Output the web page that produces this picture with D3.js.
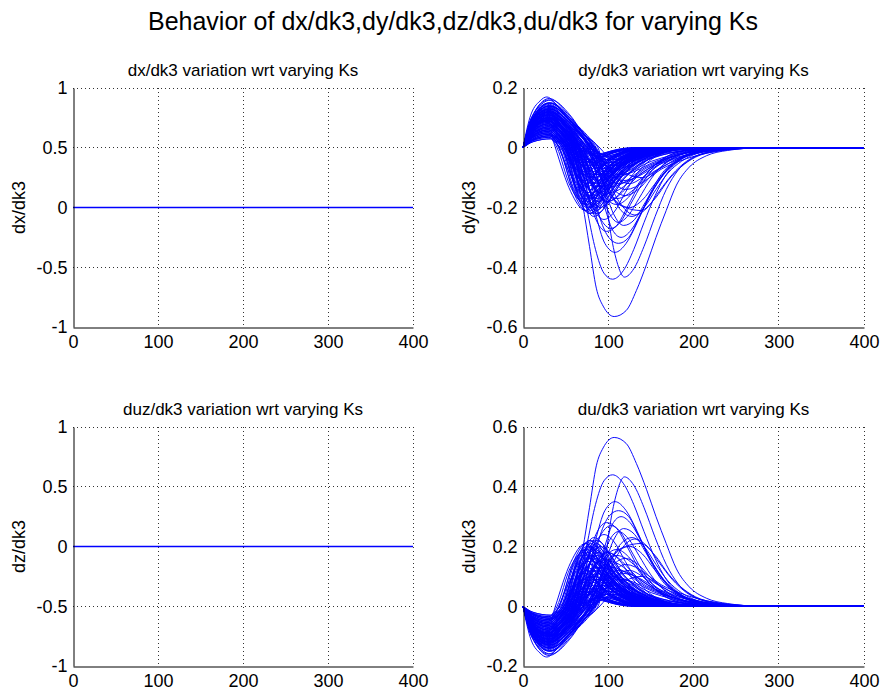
<!DOCTYPE html>
<html><head><meta charset="utf-8">
<script src="https://cdn.jsdelivr.net/npm/d3@7"></script>
<style>body{margin:0;background:#fff}svg{display:block;font-family:"Liberation Sans",Arial,Helvetica,sans-serif}</style>
</head><body><svg id="c" width="881" height="696"></svg>
<script>
const mainTitle = "Behavior of dx/dk3,dy/dk3,dz/dk3,du/dk3 for varying Ks";
const panelTitles = ["dx/dk3 variation wrt varying Ks","dy/dk3 variation wrt varying Ks","duz/dk3 variation wrt varying Ks","du/dk3 variation wrt varying Ks"];
const yLabels = ["dx/dk3","dy/dk3","dz/dk3","du/dk3"];
const xTicks = [0,100,200,300,400];
const flatYTicks = [-1,-0.5,0,0.5,1];
const dyYTicks = [-0.6,-0.4,-0.2,0,0.2];
const duYTicks = [-0.2,0,0.2,0.4,0.6];
const dxSeries = [[[0,0],[400,0]]];
const dzSeries = [[[0,0],[400,0]]];
const dyCurves = [
[[0,0],[12,0.02],[33,0.03],[36,0.018],[38,0],[56,-0.147],[73,-0.21],[99,-0.095],[125,-0.027],[160,0],[400,0]],
[[0,0],[11,0.026],[32,0.04],[37,0.024],[42,0],[59,-0.14],[75,-0.2],[102,-0.09],[129,-0.026],[165,0],[400,0]],
[[0,0],[11,0.033],[31,0.05],[38,0.03],[45,0],[59,-0.133],[72,-0.19],[95,-0.086],[119,-0.025],[150,0],[400,0]],
[[0,0],[11,0.039],[30,0.06],[39,0.036],[48,0],[63,-0.154],[78,-0.22],[106,-0.099],[133,-0.029],[170,0],[400,0]],
[[0,0],[11,0.046],[30,0.07],[40,0.042],[50,0],[63,-0.126],[76,-0.18],[101,-0.081],[126,-0.023],[160,0],[400,0]],
[[0,0],[11,0.052],[30,0.08],[41,0.048],[52,0],[66,-0.14],[80,-0.2],[109,-0.09],[137,-0.026],[175,0],[400,0]],
[[0,0],[10,0.059],[29,0.09],[42,0.054],[55,0],[69,-0.119],[82,-0.17],[108,-0.077],[135,-0.022],[170,0],[400,0]],
[[0,0],[10,0.065],[29,0.1],[43,0.06],[57,0],[71,-0.133],[84,-0.19],[113,-0.086],[142,-0.025],[180,0],[400,0]],
[[0,0],[11,0.072],[30,0.11],[45,0.066],[60,0],[73,-0.112],[85,-0.16],[112,-0.072],[139,-0.021],[175,0],[400,0]],
[[0,0],[11,0.078],[30,0.12],[46,0.072],[62,0],[75,-0.126],[88,-0.18],[119,-0.081],[149,-0.023],[190,0],[400,0]],
[[0,0],[11,0.033],[30,0.05],[40,0.03],[50,0],[62,-0.084],[74,-0.12],[94,-0.054],[114,-0.016],[140,0],[400,0]],
[[0,0],[11,0.039],[31,0.06],[42,0.036],[53,0],[66,-0.07],[78,-0.1],[98,-0.045],[118,-0.013],[145,0],[400,0]],
[[0,0],[11,0.046],[30,0.07],[43,0.042],[56,0],[68,-0.098],[80,-0.14],[104,-0.063],[128,-0.018],[160,0],[400,0]],
[[0,0],[10,0.052],[29,0.08],[44,0.048],[58,0],[70,-0.063],[82,-0.09],[102,-0.041],[123,-0.012],[150,0],[400,0]],
[[0,0],[11,0.059],[30,0.09],[45,0.054],[60,0],[72,-0.091],[84,-0.13],[108,-0.059],[133,-0.017],[165,0],[400,0]],
[[0,0],[11,0.065],[30,0.1],[47,0.06],[63,0],[75,-0.077],[87,-0.11],[112,-0.05],[137,-0.014],[170,0],[400,0]],
[[0,0],[11,0.072],[31,0.11],[48,0.066],[65,0],[78,-0.105],[90,-0.15],[119,-0.068],[147,-0.02],[185,0],[400,0]],
[[0,0],[11,0.078],[30,0.12],[49,0.072],[68,0],[80,-0.084],[92,-0.12],[118,-0.054],[145,-0.016],[180,0],[400,0]],
[[0,0],[11,0.085],[30,0.13],[50,0.078],[70,0],[82,-0.112],[94,-0.16],[124,-0.072],[155,-0.021],[195,0],[400,0]],
[[0,0],[11,0.026],[30,0.04],[41,0.024],[52,0],[62,-0.042],[72,-0.06],[89,-0.027],[107,-0.008],[130,0],[400,0]],
[[0,0],[10,0.033],[29,0.05],[42,0.03],[55,0],[66,-0.049],[76,-0.07],[94,-0.032],[111,-0.009],[135,0],[400,0]],
[[0,0],[11,0.039],[30,0.06],[44,0.036],[58,0],[69,-0.035],[80,-0.05],[98,-0.023],[116,-0.007],[140,0],[400,0]],
[[0,0],[11,0.046],[31,0.07],[46,0.042],[60,0],[71,-0.056],[82,-0.08],[102,-0.036],[123,-0.01],[150,0],[400,0]],
[[0,0],[11,0.052],[30,0.08],[47,0.048],[63,0],[74,-0.042],[85,-0.06],[105,-0.027],[124,-0.008],[150,0],[400,0]],
[[0,0],[11,0.059],[30,0.09],[48,0.054],[66,0],[77,-0.063],[88,-0.09],[110,-0.041],[131,-0.012],[160,0],[400,0]],
[[0,0],[11,0.065],[31,0.1],[50,0.06],[68,0],[80,-0.049],[92,-0.07],[114,-0.032],[136,-0.009],[165,0],[400,0]],
[[0,0],[11,0.072],[30,0.11],[51,0.066],[72,0],[84,-0.07],[95,-0.1],[119,-0.045],[143,-0.013],[175,0],[400,0]],
[[0,0],[11,0.078],[31,0.12],[53,0.072],[75,0],[87,-0.056],[98,-0.08],[123,-0.036],[147,-0.01],[180,0],[400,0]],
[[0,0],[11,0.085],[32,0.13],[55,0.078],[78,0],[89,-0.077],[100,-0.11],[127,-0.05],[154,-0.014],[190,0],[400,0]],
[[0,0],[11,0.065],[30,0.1],[50,0.06],[70,0],[83,-0.028],[95,-0.04],[118,-0.018],[140,-0.005],[170,0],[400,0]],
[[0,0],[11,0.059],[30,0.09],[48,0.054],[66,0],[78,-0.021],[90,-0.03],[111,-0.014],[132,-0.004],[160,0],[400,0]],
[[0,0],[11,0.072],[31,0.11],[53,0.066],[74,0],[87,-0.035],[100,-0.05],[127,-0.023],[154,-0.007],[190,0],[400,0]],
[[0,0],[11,0.078],[32,0.12],[56,0.072],[80,0],[93,-0.042],[105,-0.06],[134,-0.027],[162,-0.008],[200,0],[400,0]],
[[0,0],[11,0.085],[31,0.13],[57,0.078],[82,0],[96,-0.028],[110,-0.04],[140,-0.018],[170,-0.005],[210,0],[400,0]],
[[0,0],[11,0.052],[30,0.08],[46,0.048],[62,0],[75,-0.014],[88,-0.02],[107,-0.009],[125,-0.003],[150,0],[400,0]],
[[0,0],[10,0.039],[29,0.06],[40,0.036],[50,0],[63,-0.105],[76,-0.15],[100,-0.068],[123,-0.02],[155,0],[400,0]],
[[0,0],[11,0.046],[30,0.07],[42,0.042],[54,0],[67,-0.147],[80,-0.21],[107,-0.095],[134,-0.027],[170,0],[400,0]],
[[0,0],[11,0.059],[30,0.09],[44,0.054],[58,0],[70,-0.154],[82,-0.22],[110,-0.099],[138,-0.029],[175,0],[400,0]],
[[0,0],[11,0.065],[30,0.1],[45,0.06],[60,0],[73,-0.147],[86,-0.21],[116,-0.095],[145,-0.027],[185,0],[400,0]],
[[0,0],[11,0.026],[31,0.04],[38,0.024],[46,0],[59,-0.112],[72,-0.16],[94,-0.072],[116,-0.021],[145,0],[400,0]],
[[0,0],[11,0.033],[30,0.05],[39,0.03],[48,0],[60,-0.063],[72,-0.09],[91,-0.041],[110,-0.012],[135,0],[400,0]],
[[0,0],[11,0.02],[32,0.03],[38,0.018],[44,0],[57,-0.056],[70,-0.08],[88,-0.036],[106,-0.01],[130,0],[400,0]],
[[0,0],[11,0.078],[31,0.12],[49,0.072],[66,0],[78,-0.14],[90,-0.2],[123,-0.09],[156,-0.026],[200,0],[400,0]],
[[0,0],[11,0.091],[31,0.14],[52,0.084],[72,0],[84,-0.098],[96,-0.14],[127,-0.063],[158,-0.018],[200,0],[400,0]],
[[0,0],[11,0.072],[30,0.11],[47,0.066],[64,0],[76,-0.091],[88,-0.13],[116,-0.059],[143,-0.017],[180,0],[400,0]],
[[0,0],[11,0.023],[32,0.035],[36,0.021],[40,0],[55,-0.126],[70,-0.18],[100,-0.081],[130,-0.023],[170,0],[400,0]],
[[0,0],[11,0.029],[31,0.045],[37,0.027],[43,0],[59,-0.147],[74,-0.21],[104,-0.095],[135,-0.027],[175,0],[400,0]],
[[0,0],[11,0.036],[30,0.055],[38,0.033],[46,0],[60,-0.119],[73,-0.17],[101,-0.077],[128,-0.022],[165,0],[400,0]],
[[0,0],[11,0.042],[30,0.065],[40,0.039],[49,0],[63,-0.14],[77,-0.2],[108,-0.09],[139,-0.026],[180,0],[400,0]],
[[0,0],[11,0.049],[30,0.075],[41,0.045],[51,0],[64,-0.112],[77,-0.16],[106,-0.072],[136,-0.021],[175,0],[400,0]],
[[0,0],[10,0.055],[29,0.085],[41,0.051],[53,0],[67,-0.133],[80,-0.19],[112,-0.086],[143,-0.025],[185,0],[400,0]],
[[0,0],[11,0.062],[30,0.095],[43,0.057],[56,0],[69,-0.105],[82,-0.15],[111,-0.068],[141,-0.02],[180,0],[400,0]],
[[0,0],[11,0.068],[30,0.105],[44,0.063],[58,0],[72,-0.14],[85,-0.2],[118,-0.09],[151,-0.026],[195,0],[400,0]],
[[0,0],[11,0.075],[30,0.115],[46,0.069],[61,0],[74,-0.119],[87,-0.17],[118,-0.077],[149,-0.022],[190,0],[400,0]],
[[0,0],[11,0.081],[31,0.125],[48,0.075],[64,0],[77,-0.105],[90,-0.15],[123,-0.068],[156,-0.02],[200,0],[400,0]],
[[0,0],[11,0.088],[31,0.135],[49,0.081],[67,0],[80,-0.091],[93,-0.13],[127,-0.059],[160,-0.017],[205,0],[400,0]],
[[0,0],[11,0.029],[30,0.045],[39,0.027],[48,0],[60,-0.077],[72,-0.11],[98,-0.05],[125,-0.014],[160,0],[400,0]],
[[0,0],[11,0.036],[30,0.055],[41,0.033],[51,0],[63,-0.091],[75,-0.13],[102,-0.059],[129,-0.017],[165,0],[400,0]],
[[0,0],[10,0.042],[29,0.065],[42,0.039],[54,0],[66,-0.077],[78,-0.11],[106,-0.05],[133,-0.014],[170,0],[400,0]],
[[0,0],[11,0.049],[30,0.075],[44,0.045],[57,0],[69,-0.084],[81,-0.12],[109,-0.054],[137,-0.016],[175,0],[400,0]],
[[0,0],[11,0.055],[30,0.085],[45,0.051],[59,0],[71,-0.07],[83,-0.1],[111,-0.045],[138,-0.013],[175,0],[400,0]],
[[0,0],[11,0.062],[31,0.095],[47,0.057],[62,0],[74,-0.084],[86,-0.12],[116,-0.054],[145,-0.016],[185,0],[400,0]],
[[0,0],[11,0.068],[30,0.105],[47,0.063],[64,0],[76,-0.063],[88,-0.09],[117,-0.041],[146,-0.012],[185,0],[400,0]],
[[0,0],[11,0.075],[31,0.115],[49,0.069],[67,0],[79,-0.077],[91,-0.11],[122,-0.05],[153,-0.014],[195,0],[400,0]],
[[0,0],[11,0.081],[30,0.125],[50,0.075],[70,0],[82,-0.063],[94,-0.09],[126,-0.041],[158,-0.012],[200,0],[400,0]],
[[0,0],[11,0.023],[30,0.035],[40,0.021],[50,0],[60,-0.035],[70,-0.05],[94,-0.023],[118,-0.007],[150,0],[400,0]],
[[0,0],[11,0.029],[30,0.045],[42,0.027],[53,0],[64,-0.028],[74,-0.04],[97,-0.018],[120,-0.005],[150,0],[400,0]],
[[0,0],[10,0.036],[29,0.055],[43,0.033],[56,0],[67,-0.042],[77,-0.06],[102,-0.027],[127,-0.008],[160,0],[400,0]],
[[0,0],[11,0.042],[30,0.065],[45,0.039],[59,0],[70,-0.028],[80,-0.04],[104,-0.018],[128,-0.005],[160,0],[400,0]],
[[0,0],[11,0.049],[30,0.075],[46,0.045],[61,0],[72,-0.049],[83,-0.07],[109,-0.032],[135,-0.009],[170,0],[400,0]],
[[0,0],[11,0.055],[30,0.085],[47,0.051],[64,0],[75,-0.035],[86,-0.05],[111,-0.023],[136,-0.007],[170,0],[400,0]],
[[0,0],[11,0.062],[31,0.095],[49,0.057],[67,0],[79,-0.042],[90,-0.06],[117,-0.027],[144,-0.008],[180,0],[400,0]],
[[0,0],[11,0.068],[30,0.105],[50,0.063],[70,0],[82,-0.021],[93,-0.03],[119,-0.014],[145,-0.004],[180,0],[400,0]],
[[0,0],[11,0.075],[31,0.115],[52,0.069],[73,0],[85,-0.049],[96,-0.07],[126,-0.032],[155,-0.009],[195,0],[400,0]],
[[0,0],[11,0.081],[31,0.125],[54,0.075],[76,0],[88,-0.035],[100,-0.05],[132,-0.023],[163,-0.007],[205,0],[400,0]],
[[0,0],[11,0.088],[32,0.135],[56,0.081],[80,0],[92,-0.056],[104,-0.08],[137,-0.036],[171,-0.01],[215,0],[400,0]],
[[0,0],[11,0.091],[31,0.14],[58,0.084],[84,0],[96,-0.042],[108,-0.06],[143,-0.027],[178,-0.008],[225,0],[400,0]],
[[0,0],[11,0.098],[30,0.15],[58,0.09],[86,0],[98,-0.063],[110,-0.09],[146,-0.041],[182,-0.012],[230,0],[400,0]],
[[0,0],[11,0.039],[30,0.06],[39,0.036],[47,0],[61,-0.133],[75,-0.19],[105,-0.086],[135,-0.025],[175,0],[400,0]],
[[0,0],[11,0.052],[30,0.08],[40,0.048],[50,0],[64,-0.154],[78,-0.22],[110,-0.099],[142,-0.029],[185,0],[400,0]],
[[0,0],[10,0.065],[29,0.1],[42,0.06],[55,0],[69,-0.161],[83,-0.23],[117,-0.104],[150,-0.03],[195,0],[400,0]],
[[0,0],[11,0.078],[30,0.12],[44,0.072],[58,0],[72,-0.154],[86,-0.22],[120,-0.099],[154,-0.029],[200,0],[400,0]],
[[0,0],[11,0.046],[31,0.07],[42,0.042],[52,0],[66,-0.119],[79,-0.17],[106,-0.077],[134,-0.022],[170,0],[400,0]],
[[0,0],[11,0.059],[30,0.09],[42,0.054],[54,0],[67,-0.112],[80,-0.16],[109,-0.072],[137,-0.021],[175,0],[400,0]],
[[0,0],[12,0.026],[33,0.04],[38,0.024],[42,0],[56,-0.091],[70,-0.13],[94,-0.059],[118,-0.017],[150,0],[400,0]],
[[0,0],[11,0.078],[31,0.12],[55,0.072],[78,0],[92,-0.021],[105,-0.03],[149,-0.014],[192,-0.004],[250,0],[400,0]],
[[0,0],[11,0.085],[32,0.13],[56,0.078],[80,0],[95,-0.035],[110,-0.05],[155,-0.023],[200,-0.007],[260,0],[400,0]],
[[0,0],[11,0.072],[31,0.11],[54,0.066],[76,0],[92,-0.049],[108,-0.07],[151,-0.032],[193,-0.009],[250,0],[400,0]],
[[0,0],[11,0.091],[31,0.14],[57,0.084],[82,0],[99,-0.063],[115,-0.09],[160,-0.041],[205,-0.012],[265,0],[400,0]],
[[0,0],[11,0.065],[30,0.1],[51,0.06],[72,0],[86,-0.028],[100,-0.04],[142,-0.018],[184,-0.005],[240,0],[400,0]],
[[0,0],[11,0.078],[30,0.12],[53,0.072],[75,0],[91,-0.07],[106,-0.1],[151,-0.045],[195,-0.013],[255,0],[400,0]],
[[0,0],[11,0.085],[31,0.13],[55,0.078],[79,0],[96,-0.084],[112,-0.12],[158,-0.054],[204,-0.016],[265,0],[400,0]],
[[0,0],[11,0.059],[30,0.09],[50,0.054],[70,0],[84,-0.042],[98,-0.06],[139,-0.027],[180,-0.008],[235,0],[400,0]],
[[0,0],[11,0.098],[31,0.15],[58,0.09],[84,0],[101,-0.077],[118,-0.11],[165,-0.05],[212,-0.014],[275,0],[400,0]],
[[0,0],[11,0.072],[30,0.11],[52,0.066],[74,0],[89,-0.091],[104,-0.13],[148,-0.059],[192,-0.017],[250,0],[400,0]],
[[0,0],[11,0.052],[30,0.08],[48,0.048],[66,0],[81,-0.056],[95,-0.08],[136,-0.036],[176,-0.01],[230,0],[400,0]],
[[0,0],[11,0.065],[31,0.1],[51,0.06],[70,0],[86,-0.105],[102,-0.15],[145,-0.068],[188,-0.02],[245,0],[400,0]],
[[0,0],[11,0.091],[32,0.14],[58,0.084],[83,0],[102,-0.098],[120,-0.14],[168,-0.063],[216,-0.018],[280,0],[400,0]],
[[0,0],[11,0.078],[31,0.12],[54,0.072],[77,0],[94,-0.119],[110,-0.17],[155,-0.077],[200,-0.022],[260,0],[400,0]],
[[0,0],[10,0.059],[29,0.09],[48,0.054],[67,0],[83,-0.126],[98,-0.18],[141,-0.081],[183,-0.023],[240,0],[400,0]],
[[0,0],[10,0.06],[28,0.1],[42,0.06],[55,0],[62,-0.08],[70,-0.19],[78,-0.33],[86,-0.47],[94,-0.53],[107,-0.565],[121,-0.545],[133,-0.478],[145,-0.39],[156,-0.3],[168,-0.21],[180,-0.125],[195,-0.065],[215,-0.027],[240,-0.009],[280,0],[400,0]],
[[0,0],[10,0.07],[29,0.12],[45,0.07],[60,0],[68,-0.1],[76,-0.22],[85,-0.34],[95,-0.42],[105,-0.44],[118,-0.41],[130,-0.34],[142,-0.25],[155,-0.16],[168,-0.09],[185,-0.04],[205,-0.015],[235,-0.004],[270,0],[400,0]],
[[0,0],[8,0.1],[20,0.157],[28,0.17],[43,0.13],[58,0.085],[74,0.04],[88,0],[93,-0.06],[97,-0.16],[102,-0.27],[110,-0.38],[119,-0.433],[130,-0.405],[142,-0.33],[155,-0.23],[168,-0.14],[182,-0.075],[200,-0.033],[225,-0.011],[255,-0.003],[290,0],[400,0]],
[[0,0],[10,0.09],[30,0.14],[48,0.09],[66,0],[75,-0.1],[85,-0.22],[96,-0.32],[108,-0.35],[121,-0.32],[134,-0.25],[148,-0.16],[162,-0.09],[178,-0.045],[198,-0.018],[225,-0.005],[260,0],[400,0]],
[[0,0],[10,0.1],[30,0.16],[50,0.11],[66,0.05],[78,0],[87,-0.1],[96,-0.2],[106,-0.28],[115,-0.3],[127,-0.275],[140,-0.21],[154,-0.135],[168,-0.075],[185,-0.035],[205,-0.013],[230,-0.004],[265,0],[400,0]],
[[0,0],[10,0.08],[30,0.13],[48,0.08],[64,0],[74,-0.1],[85,-0.2],[95,-0.255],[103,-0.27],[114,-0.25],[126,-0.19],[140,-0.12],[155,-0.065],[172,-0.03],[195,-0.01],[230,0],[400,0]],
[[0,0],[10,0.095],[32,0.15],[52,0.1],[76,0],[86,-0.09],[98,-0.2],[112,-0.25],[124,-0.225],[136,-0.17],[150,-0.105],[165,-0.055],[185,-0.022],[210,-0.006],[245,0],[400,0]],
[[0,0],[10,0.1],[33,0.16],[55,0.11],[70,0.05],[84,0],[100,-0.13],[115,-0.21],[128,-0.23],[142,-0.2],[156,-0.14],[170,-0.085],[186,-0.045],[205,-0.018],[230,-0.005],[265,0],[400,0]],
[[0,0],[10,0.075],[32,0.12],[56,0.07],[80,0],[100,-0.15],[120,-0.2],[138,-0.21],[155,-0.17],[170,-0.11],[185,-0.065],[202,-0.032],[225,-0.012],[255,-0.003],[285,0],[400,0]],
[[0,0],[10,0.065],[30,0.1],[48,0.06],[66,0],[76,-0.08],[87,-0.155],[100,-0.18],[113,-0.155],[126,-0.1],[140,-0.055],[156,-0.025],[178,-0.008],[210,0],[400,0]],
[[0,0],[10,0.085],[32,0.13],[56,0.08],[80,0],[92,-0.07],[105,-0.135],[120,-0.16],[135,-0.14],[150,-0.095],[166,-0.055],[184,-0.025],[205,-0.008],[235,0],[400,0]],
[[0,0],[10,0.06],[30,0.09],[50,0.05],[70,0],[82,-0.08],[95,-0.16],[110,-0.19],[124,-0.165],[138,-0.11],[152,-0.065],[168,-0.03],[190,-0.01],[225,0],[400,0]],
[[0,0],[10,0.09],[32,0.14],[58,0.085],[85,0],[98,-0.06],[111,-0.105],[125,-0.12],[140,-0.1],[156,-0.065],[172,-0.035],[192,-0.014],[215,-0.004],[245,0],[400,0]],
[[0,0],[10,0.065],[33,0.1],[60,0.06],[90,0],[105,-0.05],[120,-0.085],[140,-0.1],[158,-0.075],[175,-0.045],[195,-0.02],[220,-0.006],[250,0],[400,0]],
[[0,0],[10,0.07],[30,0.11],[50,0.06],[70,0],[80,-0.12],[92,-0.25],[102,-0.305],[112,-0.32],[124,-0.3],[136,-0.235],[150,-0.155],[165,-0.09],[182,-0.045],[202,-0.018],[228,-0.005],[260,0],[400,0]],
[[0,0],[10,0.07],[29,0.11],[46,0.065],[62,0],[72,-0.11],[84,-0.23],[98,-0.28],[110,-0.26],[123,-0.195],[137,-0.12],[152,-0.065],[170,-0.028],[195,-0.008],[230,0],[400,0]],
[[0,0],[10,0.06],[29,0.095],[45,0.055],[60,0],[70,-0.1],[82,-0.2],[95,-0.24],[107,-0.215],[120,-0.15],[134,-0.085],[150,-0.04],[170,-0.014],[200,0],[400,0]],
[[0,0],[10,0.09],[31,0.145],[54,0.09],[78,0],[92,-0.1],[108,-0.175],[125,-0.2],[140,-0.175],[155,-0.12],[170,-0.07],[188,-0.033],[210,-0.012],[240,-0.003],[275,0],[400,0]],
[[0,0],[10,0.1],[31,0.165],[52,0.115],[70,0.05],[82,0],[94,-0.12],[106,-0.22],[118,-0.26],[131,-0.24],[144,-0.18],[158,-0.115],[173,-0.062],[190,-0.028],[212,-0.01],[240,-0.002],[275,0],[400,0]],
[[0,0],[10,0.09],[33,0.15],[58,0.09],[82,0],[98,-0.1],[115,-0.19],[131,-0.225],[146,-0.2],[160,-0.145],[175,-0.09],[192,-0.045],[212,-0.018],[240,-0.005],[280,0],[400,0]]
];
const duCurves = [
[[0,0],[12,-0.02],[33,-0.03],[36,-0.018],[38,0],[56,0.147],[73,0.21],[99,0.095],[125,0.027],[160,0],[400,0]],
[[0,0],[11,-0.026],[32,-0.04],[37,-0.024],[42,0],[59,0.14],[75,0.2],[102,0.09],[129,0.026],[165,0],[400,0]],
[[0,0],[11,-0.033],[31,-0.05],[38,-0.03],[45,0],[59,0.133],[72,0.19],[95,0.086],[119,0.025],[150,0],[400,0]],
[[0,0],[11,-0.039],[30,-0.06],[39,-0.036],[48,0],[63,0.154],[78,0.22],[106,0.099],[133,0.029],[170,0],[400,0]],
[[0,0],[11,-0.046],[30,-0.07],[40,-0.042],[50,0],[63,0.126],[76,0.18],[101,0.081],[126,0.023],[160,0],[400,0]],
[[0,0],[11,-0.052],[30,-0.08],[41,-0.048],[52,0],[66,0.14],[80,0.2],[109,0.09],[137,0.026],[175,0],[400,0]],
[[0,0],[10,-0.059],[29,-0.09],[42,-0.054],[55,0],[69,0.119],[82,0.17],[108,0.077],[135,0.022],[170,0],[400,0]],
[[0,0],[10,-0.065],[29,-0.1],[43,-0.06],[57,0],[71,0.133],[84,0.19],[113,0.086],[142,0.025],[180,0],[400,0]],
[[0,0],[11,-0.072],[30,-0.11],[45,-0.066],[60,0],[73,0.112],[85,0.16],[112,0.072],[139,0.021],[175,0],[400,0]],
[[0,0],[11,-0.078],[30,-0.12],[46,-0.072],[62,0],[75,0.126],[88,0.18],[119,0.081],[149,0.023],[190,0],[400,0]],
[[0,0],[11,-0.033],[30,-0.05],[40,-0.03],[50,0],[62,0.084],[74,0.12],[94,0.054],[114,0.016],[140,0],[400,0]],
[[0,0],[11,-0.039],[31,-0.06],[42,-0.036],[53,0],[66,0.07],[78,0.1],[98,0.045],[118,0.013],[145,0],[400,0]],
[[0,0],[11,-0.046],[30,-0.07],[43,-0.042],[56,0],[68,0.098],[80,0.14],[104,0.063],[128,0.018],[160,0],[400,0]],
[[0,0],[10,-0.052],[29,-0.08],[44,-0.048],[58,0],[70,0.063],[82,0.09],[102,0.041],[123,0.012],[150,0],[400,0]],
[[0,0],[11,-0.059],[30,-0.09],[45,-0.054],[60,0],[72,0.091],[84,0.13],[108,0.059],[133,0.017],[165,0],[400,0]],
[[0,0],[11,-0.065],[30,-0.1],[47,-0.06],[63,0],[75,0.077],[87,0.11],[112,0.05],[137,0.014],[170,0],[400,0]],
[[0,0],[11,-0.072],[31,-0.11],[48,-0.066],[65,0],[78,0.105],[90,0.15],[119,0.068],[147,0.02],[185,0],[400,0]],
[[0,0],[11,-0.078],[30,-0.12],[49,-0.072],[68,0],[80,0.084],[92,0.12],[118,0.054],[145,0.016],[180,0],[400,0]],
[[0,0],[11,-0.085],[30,-0.13],[50,-0.078],[70,0],[82,0.112],[94,0.16],[124,0.072],[155,0.021],[195,0],[400,0]],
[[0,0],[11,-0.026],[30,-0.04],[41,-0.024],[52,0],[62,0.042],[72,0.06],[89,0.027],[107,0.008],[130,0],[400,0]],
[[0,0],[10,-0.033],[29,-0.05],[42,-0.03],[55,0],[66,0.049],[76,0.07],[94,0.032],[111,0.009],[135,0],[400,0]],
[[0,0],[11,-0.039],[30,-0.06],[44,-0.036],[58,0],[69,0.035],[80,0.05],[98,0.023],[116,0.007],[140,0],[400,0]],
[[0,0],[11,-0.046],[31,-0.07],[46,-0.042],[60,0],[71,0.056],[82,0.08],[102,0.036],[123,0.01],[150,0],[400,0]],
[[0,0],[11,-0.052],[30,-0.08],[47,-0.048],[63,0],[74,0.042],[85,0.06],[105,0.027],[124,0.008],[150,0],[400,0]],
[[0,0],[11,-0.059],[30,-0.09],[48,-0.054],[66,0],[77,0.063],[88,0.09],[110,0.041],[131,0.012],[160,0],[400,0]],
[[0,0],[11,-0.065],[31,-0.1],[50,-0.06],[68,0],[80,0.049],[92,0.07],[114,0.032],[136,0.009],[165,0],[400,0]],
[[0,0],[11,-0.072],[30,-0.11],[51,-0.066],[72,0],[84,0.07],[95,0.1],[119,0.045],[143,0.013],[175,0],[400,0]],
[[0,0],[11,-0.078],[31,-0.12],[53,-0.072],[75,0],[87,0.056],[98,0.08],[123,0.036],[147,0.01],[180,0],[400,0]],
[[0,0],[11,-0.085],[32,-0.13],[55,-0.078],[78,0],[89,0.077],[100,0.11],[127,0.05],[154,0.014],[190,0],[400,0]],
[[0,0],[11,-0.065],[30,-0.1],[50,-0.06],[70,0],[83,0.028],[95,0.04],[118,0.018],[140,0.005],[170,0],[400,0]],
[[0,0],[11,-0.059],[30,-0.09],[48,-0.054],[66,0],[78,0.021],[90,0.03],[111,0.014],[132,0.004],[160,0],[400,0]],
[[0,0],[11,-0.072],[31,-0.11],[53,-0.066],[74,0],[87,0.035],[100,0.05],[127,0.023],[154,0.007],[190,0],[400,0]],
[[0,0],[11,-0.078],[32,-0.12],[56,-0.072],[80,0],[93,0.042],[105,0.06],[134,0.027],[162,0.008],[200,0],[400,0]],
[[0,0],[11,-0.085],[31,-0.13],[57,-0.078],[82,0],[96,0.028],[110,0.04],[140,0.018],[170,0.005],[210,0],[400,0]],
[[0,0],[11,-0.052],[30,-0.08],[46,-0.048],[62,0],[75,0.014],[88,0.02],[107,0.009],[125,0.003],[150,0],[400,0]],
[[0,0],[10,-0.039],[29,-0.06],[40,-0.036],[50,0],[63,0.105],[76,0.15],[100,0.068],[123,0.02],[155,0],[400,0]],
[[0,0],[11,-0.046],[30,-0.07],[42,-0.042],[54,0],[67,0.147],[80,0.21],[107,0.095],[134,0.027],[170,0],[400,0]],
[[0,0],[11,-0.059],[30,-0.09],[44,-0.054],[58,0],[70,0.154],[82,0.22],[110,0.099],[138,0.029],[175,0],[400,0]],
[[0,0],[11,-0.065],[30,-0.1],[45,-0.06],[60,0],[73,0.147],[86,0.21],[116,0.095],[145,0.027],[185,0],[400,0]],
[[0,0],[11,-0.026],[31,-0.04],[38,-0.024],[46,0],[59,0.112],[72,0.16],[94,0.072],[116,0.021],[145,0],[400,0]],
[[0,0],[11,-0.033],[30,-0.05],[39,-0.03],[48,0],[60,0.063],[72,0.09],[91,0.041],[110,0.012],[135,0],[400,0]],
[[0,0],[11,-0.02],[32,-0.03],[38,-0.018],[44,0],[57,0.056],[70,0.08],[88,0.036],[106,0.01],[130,0],[400,0]],
[[0,0],[11,-0.078],[31,-0.12],[49,-0.072],[66,0],[78,0.14],[90,0.2],[123,0.09],[156,0.026],[200,0],[400,0]],
[[0,0],[11,-0.091],[31,-0.14],[52,-0.084],[72,0],[84,0.098],[96,0.14],[127,0.063],[158,0.018],[200,0],[400,0]],
[[0,0],[11,-0.072],[30,-0.11],[47,-0.066],[64,0],[76,0.091],[88,0.13],[116,0.059],[143,0.017],[180,0],[400,0]],
[[0,0],[11,-0.023],[32,-0.035],[36,-0.021],[40,0],[55,0.126],[70,0.18],[100,0.081],[130,0.023],[170,0],[400,0]],
[[0,0],[11,-0.029],[31,-0.045],[37,-0.027],[43,0],[59,0.147],[74,0.21],[104,0.095],[135,0.027],[175,0],[400,0]],
[[0,0],[11,-0.036],[30,-0.055],[38,-0.033],[46,0],[60,0.119],[73,0.17],[101,0.077],[128,0.022],[165,0],[400,0]],
[[0,0],[11,-0.042],[30,-0.065],[40,-0.039],[49,0],[63,0.14],[77,0.2],[108,0.09],[139,0.026],[180,0],[400,0]],
[[0,0],[11,-0.049],[30,-0.075],[41,-0.045],[51,0],[64,0.112],[77,0.16],[106,0.072],[136,0.021],[175,0],[400,0]],
[[0,0],[10,-0.055],[29,-0.085],[41,-0.051],[53,0],[67,0.133],[80,0.19],[112,0.086],[143,0.025],[185,0],[400,0]],
[[0,0],[11,-0.062],[30,-0.095],[43,-0.057],[56,0],[69,0.105],[82,0.15],[111,0.068],[141,0.02],[180,0],[400,0]],
[[0,0],[11,-0.068],[30,-0.105],[44,-0.063],[58,0],[72,0.14],[85,0.2],[118,0.09],[151,0.026],[195,0],[400,0]],
[[0,0],[11,-0.075],[30,-0.115],[46,-0.069],[61,0],[74,0.119],[87,0.17],[118,0.077],[149,0.022],[190,0],[400,0]],
[[0,0],[11,-0.081],[31,-0.125],[48,-0.075],[64,0],[77,0.105],[90,0.15],[123,0.068],[156,0.02],[200,0],[400,0]],
[[0,0],[11,-0.088],[31,-0.135],[49,-0.081],[67,0],[80,0.091],[93,0.13],[127,0.059],[160,0.017],[205,0],[400,0]],
[[0,0],[11,-0.029],[30,-0.045],[39,-0.027],[48,0],[60,0.077],[72,0.11],[98,0.05],[125,0.014],[160,0],[400,0]],
[[0,0],[11,-0.036],[30,-0.055],[41,-0.033],[51,0],[63,0.091],[75,0.13],[102,0.059],[129,0.017],[165,0],[400,0]],
[[0,0],[10,-0.042],[29,-0.065],[42,-0.039],[54,0],[66,0.077],[78,0.11],[106,0.05],[133,0.014],[170,0],[400,0]],
[[0,0],[11,-0.049],[30,-0.075],[44,-0.045],[57,0],[69,0.084],[81,0.12],[109,0.054],[137,0.016],[175,0],[400,0]],
[[0,0],[11,-0.055],[30,-0.085],[45,-0.051],[59,0],[71,0.07],[83,0.1],[111,0.045],[138,0.013],[175,0],[400,0]],
[[0,0],[11,-0.062],[31,-0.095],[47,-0.057],[62,0],[74,0.084],[86,0.12],[116,0.054],[145,0.016],[185,0],[400,0]],
[[0,0],[11,-0.068],[30,-0.105],[47,-0.063],[64,0],[76,0.063],[88,0.09],[117,0.041],[146,0.012],[185,0],[400,0]],
[[0,0],[11,-0.075],[31,-0.115],[49,-0.069],[67,0],[79,0.077],[91,0.11],[122,0.05],[153,0.014],[195,0],[400,0]],
[[0,0],[11,-0.081],[30,-0.125],[50,-0.075],[70,0],[82,0.063],[94,0.09],[126,0.041],[158,0.012],[200,0],[400,0]],
[[0,0],[11,-0.023],[30,-0.035],[40,-0.021],[50,0],[60,0.035],[70,0.05],[94,0.023],[118,0.007],[150,0],[400,0]],
[[0,0],[11,-0.029],[30,-0.045],[42,-0.027],[53,0],[64,0.028],[74,0.04],[97,0.018],[120,0.005],[150,0],[400,0]],
[[0,0],[10,-0.036],[29,-0.055],[43,-0.033],[56,0],[67,0.042],[77,0.06],[102,0.027],[127,0.008],[160,0],[400,0]],
[[0,0],[11,-0.042],[30,-0.065],[45,-0.039],[59,0],[70,0.028],[80,0.04],[104,0.018],[128,0.005],[160,0],[400,0]],
[[0,0],[11,-0.049],[30,-0.075],[46,-0.045],[61,0],[72,0.049],[83,0.07],[109,0.032],[135,0.009],[170,0],[400,0]],
[[0,0],[11,-0.055],[30,-0.085],[47,-0.051],[64,0],[75,0.035],[86,0.05],[111,0.023],[136,0.007],[170,0],[400,0]],
[[0,0],[11,-0.062],[31,-0.095],[49,-0.057],[67,0],[79,0.042],[90,0.06],[117,0.027],[144,0.008],[180,0],[400,0]],
[[0,0],[11,-0.068],[30,-0.105],[50,-0.063],[70,0],[82,0.021],[93,0.03],[119,0.014],[145,0.004],[180,0],[400,0]],
[[0,0],[11,-0.075],[31,-0.115],[52,-0.069],[73,0],[85,0.049],[96,0.07],[126,0.032],[155,0.009],[195,0],[400,0]],
[[0,0],[11,-0.081],[31,-0.125],[54,-0.075],[76,0],[88,0.035],[100,0.05],[132,0.023],[163,0.007],[205,0],[400,0]],
[[0,0],[11,-0.088],[32,-0.135],[56,-0.081],[80,0],[92,0.056],[104,0.08],[137,0.036],[171,0.01],[215,0],[400,0]],
[[0,0],[11,-0.091],[31,-0.14],[58,-0.084],[84,0],[96,0.042],[108,0.06],[143,0.027],[178,0.008],[225,0],[400,0]],
[[0,0],[11,-0.098],[30,-0.15],[58,-0.09],[86,0],[98,0.063],[110,0.09],[146,0.041],[182,0.012],[230,0],[400,0]],
[[0,0],[11,-0.039],[30,-0.06],[39,-0.036],[47,0],[61,0.133],[75,0.19],[105,0.086],[135,0.025],[175,0],[400,0]],
[[0,0],[11,-0.052],[30,-0.08],[40,-0.048],[50,0],[64,0.154],[78,0.22],[110,0.099],[142,0.029],[185,0],[400,0]],
[[0,0],[10,-0.065],[29,-0.1],[42,-0.06],[55,0],[69,0.161],[83,0.23],[117,0.104],[150,0.03],[195,0],[400,0]],
[[0,0],[11,-0.078],[30,-0.12],[44,-0.072],[58,0],[72,0.154],[86,0.22],[120,0.099],[154,0.029],[200,0],[400,0]],
[[0,0],[11,-0.046],[31,-0.07],[42,-0.042],[52,0],[66,0.119],[79,0.17],[106,0.077],[134,0.022],[170,0],[400,0]],
[[0,0],[11,-0.059],[30,-0.09],[42,-0.054],[54,0],[67,0.112],[80,0.16],[109,0.072],[137,0.021],[175,0],[400,0]],
[[0,0],[12,-0.026],[33,-0.04],[38,-0.024],[42,0],[56,0.091],[70,0.13],[94,0.059],[118,0.017],[150,0],[400,0]],
[[0,0],[11,-0.078],[31,-0.12],[55,-0.072],[78,0],[92,0.021],[105,0.03],[149,0.014],[192,0.004],[250,0],[400,0]],
[[0,0],[11,-0.085],[32,-0.13],[56,-0.078],[80,0],[95,0.035],[110,0.05],[155,0.023],[200,0.007],[260,0],[400,0]],
[[0,0],[11,-0.072],[31,-0.11],[54,-0.066],[76,0],[92,0.049],[108,0.07],[151,0.032],[193,0.009],[250,0],[400,0]],
[[0,0],[11,-0.091],[31,-0.14],[57,-0.084],[82,0],[99,0.063],[115,0.09],[160,0.041],[205,0.012],[265,0],[400,0]],
[[0,0],[11,-0.065],[30,-0.1],[51,-0.06],[72,0],[86,0.028],[100,0.04],[142,0.018],[184,0.005],[240,0],[400,0]],
[[0,0],[11,-0.078],[30,-0.12],[53,-0.072],[75,0],[91,0.07],[106,0.1],[151,0.045],[195,0.013],[255,0],[400,0]],
[[0,0],[11,-0.085],[31,-0.13],[55,-0.078],[79,0],[96,0.084],[112,0.12],[158,0.054],[204,0.016],[265,0],[400,0]],
[[0,0],[11,-0.059],[30,-0.09],[50,-0.054],[70,0],[84,0.042],[98,0.06],[139,0.027],[180,0.008],[235,0],[400,0]],
[[0,0],[11,-0.098],[31,-0.15],[58,-0.09],[84,0],[101,0.077],[118,0.11],[165,0.05],[212,0.014],[275,0],[400,0]],
[[0,0],[11,-0.072],[30,-0.11],[52,-0.066],[74,0],[89,0.091],[104,0.13],[148,0.059],[192,0.017],[250,0],[400,0]],
[[0,0],[11,-0.052],[30,-0.08],[48,-0.048],[66,0],[81,0.056],[95,0.08],[136,0.036],[176,0.01],[230,0],[400,0]],
[[0,0],[11,-0.065],[31,-0.1],[51,-0.06],[70,0],[86,0.105],[102,0.15],[145,0.068],[188,0.02],[245,0],[400,0]],
[[0,0],[11,-0.091],[32,-0.14],[58,-0.084],[83,0],[102,0.098],[120,0.14],[168,0.063],[216,0.018],[280,0],[400,0]],
[[0,0],[11,-0.078],[31,-0.12],[54,-0.072],[77,0],[94,0.119],[110,0.17],[155,0.077],[200,0.022],[260,0],[400,0]],
[[0,0],[10,-0.059],[29,-0.09],[48,-0.054],[67,0],[83,0.126],[98,0.18],[141,0.081],[183,0.023],[240,0],[400,0]],
[[0,0],[10,-0.06],[28,-0.1],[42,-0.06],[55,0],[62,0.08],[70,0.19],[78,0.33],[86,0.47],[94,0.53],[107,0.565],[121,0.545],[133,0.478],[145,0.39],[156,0.3],[168,0.21],[180,0.125],[195,0.065],[215,0.027],[240,0.009],[280,0],[400,0]],
[[0,0],[10,-0.07],[29,-0.12],[45,-0.07],[60,0],[68,0.1],[76,0.22],[85,0.34],[95,0.42],[105,0.44],[118,0.41],[130,0.34],[142,0.25],[155,0.16],[168,0.09],[185,0.04],[205,0.015],[235,0.004],[270,0],[400,0]],
[[0,0],[8,-0.1],[20,-0.157],[28,-0.17],[43,-0.13],[58,-0.085],[74,-0.04],[88,0],[93,0.06],[97,0.16],[102,0.27],[110,0.38],[119,0.433],[130,0.405],[142,0.33],[155,0.23],[168,0.14],[182,0.075],[200,0.033],[225,0.011],[255,0.003],[290,0],[400,0]],
[[0,0],[10,-0.09],[30,-0.14],[48,-0.09],[66,0],[75,0.1],[85,0.22],[96,0.32],[108,0.35],[121,0.32],[134,0.25],[148,0.16],[162,0.09],[178,0.045],[198,0.018],[225,0.005],[260,0],[400,0]],
[[0,0],[10,-0.1],[30,-0.16],[50,-0.11],[66,-0.05],[78,0],[87,0.1],[96,0.2],[106,0.28],[115,0.3],[127,0.275],[140,0.21],[154,0.135],[168,0.075],[185,0.035],[205,0.013],[230,0.004],[265,0],[400,0]],
[[0,0],[10,-0.08],[30,-0.13],[48,-0.08],[64,0],[74,0.1],[85,0.2],[95,0.255],[103,0.27],[114,0.25],[126,0.19],[140,0.12],[155,0.065],[172,0.03],[195,0.01],[230,0],[400,0]],
[[0,0],[10,-0.095],[32,-0.15],[52,-0.1],[76,0],[86,0.09],[98,0.2],[112,0.25],[124,0.225],[136,0.17],[150,0.105],[165,0.055],[185,0.022],[210,0.006],[245,0],[400,0]],
[[0,0],[10,-0.1],[33,-0.16],[55,-0.11],[70,-0.05],[84,0],[100,0.13],[115,0.21],[128,0.23],[142,0.2],[156,0.14],[170,0.085],[186,0.045],[205,0.018],[230,0.005],[265,0],[400,0]],
[[0,0],[10,-0.075],[32,-0.12],[56,-0.07],[80,0],[100,0.15],[120,0.2],[138,0.21],[155,0.17],[170,0.11],[185,0.065],[202,0.032],[225,0.012],[255,0.003],[285,0],[400,0]],
[[0,0],[10,-0.065],[30,-0.1],[48,-0.06],[66,0],[76,0.08],[87,0.155],[100,0.18],[113,0.155],[126,0.1],[140,0.055],[156,0.025],[178,0.008],[210,0],[400,0]],
[[0,0],[10,-0.085],[32,-0.13],[56,-0.08],[80,0],[92,0.07],[105,0.135],[120,0.16],[135,0.14],[150,0.095],[166,0.055],[184,0.025],[205,0.008],[235,0],[400,0]],
[[0,0],[10,-0.06],[30,-0.09],[50,-0.05],[70,0],[82,0.08],[95,0.16],[110,0.19],[124,0.165],[138,0.11],[152,0.065],[168,0.03],[190,0.01],[225,0],[400,0]],
[[0,0],[10,-0.09],[32,-0.14],[58,-0.085],[85,0],[98,0.06],[111,0.105],[125,0.12],[140,0.1],[156,0.065],[172,0.035],[192,0.014],[215,0.004],[245,0],[400,0]],
[[0,0],[10,-0.065],[33,-0.1],[60,-0.06],[90,0],[105,0.05],[120,0.085],[140,0.1],[158,0.075],[175,0.045],[195,0.02],[220,0.006],[250,0],[400,0]],
[[0,0],[10,-0.07],[30,-0.11],[50,-0.06],[70,0],[80,0.12],[92,0.25],[102,0.305],[112,0.32],[124,0.3],[136,0.235],[150,0.155],[165,0.09],[182,0.045],[202,0.018],[228,0.005],[260,0],[400,0]],
[[0,0],[10,-0.07],[29,-0.11],[46,-0.065],[62,0],[72,0.11],[84,0.23],[98,0.28],[110,0.26],[123,0.195],[137,0.12],[152,0.065],[170,0.028],[195,0.008],[230,0],[400,0]],
[[0,0],[10,-0.06],[29,-0.095],[45,-0.055],[60,0],[70,0.1],[82,0.2],[95,0.24],[107,0.215],[120,0.15],[134,0.085],[150,0.04],[170,0.014],[200,0],[400,0]],
[[0,0],[10,-0.09],[31,-0.145],[54,-0.09],[78,0],[92,0.1],[108,0.175],[125,0.2],[140,0.175],[155,0.12],[170,0.07],[188,0.033],[210,0.012],[240,0.003],[275,0],[400,0]],
[[0,0],[10,-0.1],[31,-0.165],[52,-0.115],[70,-0.05],[82,0],[94,0.12],[106,0.22],[118,0.26],[131,0.24],[144,0.18],[158,0.115],[173,0.062],[190,0.028],[212,0.01],[240,0.002],[275,0],[400,0]],
[[0,0],[10,-0.09],[33,-0.15],[58,-0.09],[82,0],[98,0.1],[115,0.19],[131,0.225],[146,0.2],[160,0.145],[175,0.09],[192,0.045],[212,0.018],[240,0.005],[280,0],[400,0]]
];

const svg = d3.select("#c");
const panels = [
  {x0:73, x1:413, y0:88, y1:327, dom:[-1,1], ticks:flatYTicks, data:dxSeries, title:panelTitles[0], ylab:yLabels[0], sw:1.3},
  {x0:523, x1:864, y0:88, y1:327, dom:[-0.6,0.2], ticks:dyYTicks, data:dyCurves, title:panelTitles[1], ylab:yLabels[1], sw:0.95},
  {x0:73, x1:413, y0:427, y1:666, dom:[-1,1], ticks:flatYTicks, data:dzSeries, title:panelTitles[2], ylab:yLabels[2], sw:1.3},
  {x0:523, x1:864, y0:427, y1:666, dom:[-0.2,0.6], ticks:duYTicks, data:duCurves, title:panelTitles[3], ylab:yLabels[3], sw:0.95}
];
const fmt = d => String(d);

svg.append("text").attr("x", 453).attr("y", 30).attr("text-anchor","middle")
  .attr("font-size", 25).attr("fill","#000").text(mainTitle);

panels.forEach(p => {
  const x = d3.scaleLinear().domain([0,400]).range([p.x0, p.x1]);
  const y = d3.scaleLinear().domain(p.dom).range([p.y1, p.y0]);
  const g = svg.append("g");
  g.selectAll(".gx").data(xTicks.filter(t => t !== 0)).join("line")
    .attr("x1", d => Math.floor(x(d))+0.5).attr("x2", d => Math.floor(x(d))+0.5)
    .attr("y1", p.y0).attr("y2", p.y1)
    .attr("stroke","#333").attr("stroke-width",1).attr("stroke-dasharray","1,3");
  g.selectAll(".gy").data(p.ticks.filter(t => t !== p.dom[0])).join("line")
    .attr("x1", p.x0).attr("x2", p.x1)
    .attr("y1", d => Math.floor(y(d))+0.5).attr("y2", d => Math.floor(y(d))+0.5)
    .attr("stroke","#333").attr("stroke-width",1).attr("stroke-dasharray","1,3");
  const line = d3.line().x(d => x(d[0])).y(d => y(d[1])).curve(d3.curveMonotoneX);
  g.append("g").selectAll("path").data(p.data).join("path")
    .attr("d", line).attr("fill","none").attr("stroke","#0000ff")
    .attr("stroke-width", p.sw);
  const ax = g.append("g").attr("transform", `translate(0,${p.y1+0.5})`)
    .call(d3.axisBottom(x).tickValues(xTicks).tickFormat(fmt).tickSizeInner(0).tickSizeOuter(0).tickPadding(8));
  const ay = g.append("g").attr("transform", `translate(${p.x0+0.5},0)`)
    .call(d3.axisLeft(y).tickValues(p.ticks).tickFormat(fmt).tickSizeInner(0).tickSizeOuter(0).tickPadding(6));
  [ax, ay].forEach(a => {
    a.select(".domain").attr("stroke","#000").attr("stroke-width",1);
    a.selectAll("text").attr("font-size",18).attr("fill","#000")
      .attr("font-family",'"Liberation Sans",Arial,Helvetica,sans-serif');
  });
  g.append("text").attr("x", (p.x0+p.x1)/2).attr("y", p.y0-12).attr("text-anchor","middle")
    .attr("font-size",17).attr("fill","#000").text(p.title);
  g.append("text").attr("transform", `translate(${p.x0-48},${(p.y0+p.y1)/2}) rotate(-90)`)
    .attr("text-anchor","middle").attr("font-size",18).attr("fill","#000").text(p.ylab);
});
</script></body></html>
